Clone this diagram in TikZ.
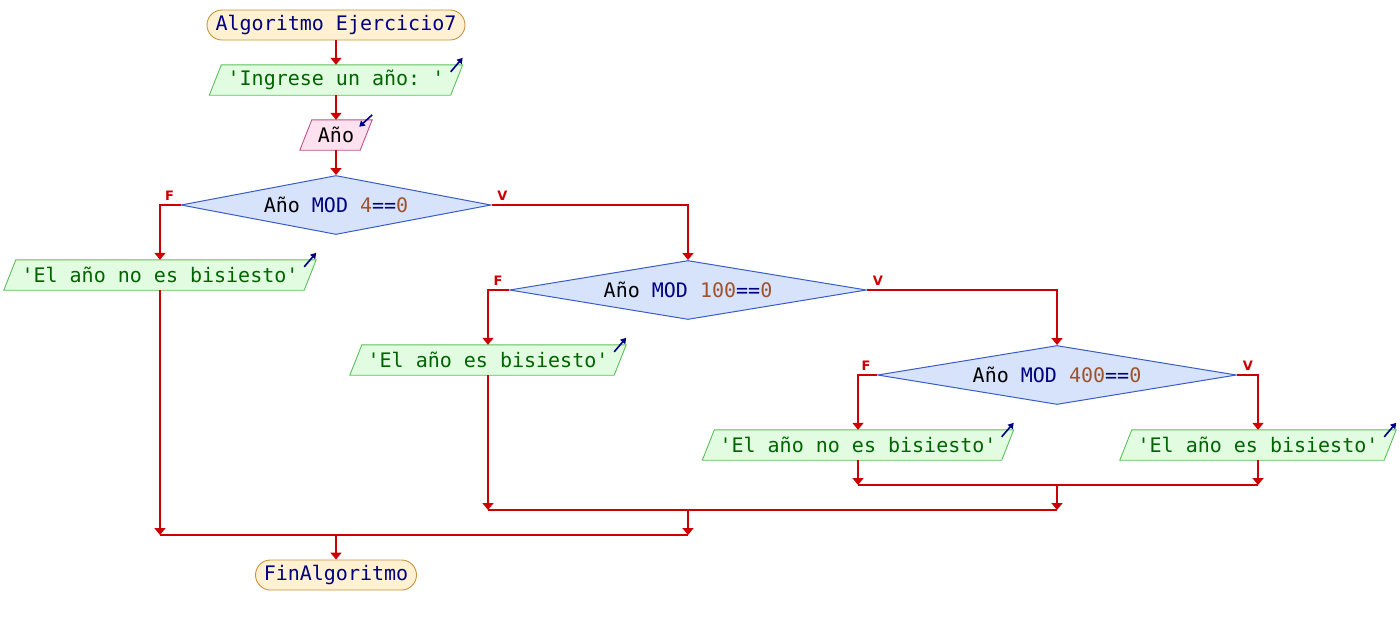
\documentclass[tikz,border=0pt]{standalone}
\usepackage{fontspec}
\setmonofont{DejaVu Sans Mono}
\newfontfamily\lblfont{DejaVu Sans}
\usetikzlibrary{shapes.geometric,arrows.meta,backgrounds}
\definecolor{flowred}{HTML}{CC0000}
\definecolor{navyc}{HTML}{000080}
\definecolor{sienc}{HTML}{A0522D}
\definecolor{termfill}{HTML}{FFF1D2}
\definecolor{termborder}{HTML}{C8923C}
\definecolor{outfill}{HTML}{E2FCE2}
\definecolor{outborder}{HTML}{5CBF5C}
\definecolor{outtext}{HTML}{006400}
\definecolor{infill}{HTML}{FDE1EE}
\definecolor{inborder}{HTML}{C0508A}
\definecolor{decfill}{HTML}{D6E3FB}
\definecolor{decborder}{HTML}{3A5CC8}
\newcommand{\paraShape}[2]{%
  \begin{scope}[on background layer]
    \path[#2] ([xshift=12pt]#1.north west) -- (#1.north east) -- ([xshift=-12pt]#1.south east) -- (#1.south west) -- cycle;
  \end{scope}}
\tikzset{
  mono/.style={font=\ttfamily\fontsize{20}{24}\selectfont},
  flow/.style={draw=flowred, line width=2pt},
  tip/.style={-{Triangle[width=11pt,length=7pt]}},
  term/.style={mono, draw=termborder, fill=termfill, line width=0.9pt, rounded corners=15pt,
    minimum height=30pt, inner sep=0pt, text=navyc},
  outbox/.style={mono, minimum height=30pt, inner sep=0pt, text=outtext},
  outshape/.style={draw=outborder, fill=outfill, line width=0.9pt},
  inbox/.style={mono, minimum height=30pt, inner sep=0pt, text=black},
  inshape/.style={draw=inborder, fill=infill, line width=0.9pt},
  decision/.style={mono, shape=diamond, aspect=6, draw=decborder, fill=decfill, line width=1pt,
    inner sep=0pt, minimum height=59pt},
  lbl/.style={text=flowred, font=\lblfont\bfseries\fontsize{13}{14}\selectfont, inner sep=0pt},
  icon/.style={draw=navyc, line width=1.6pt, -{Triangle[width=6.5pt,length=5.5pt]}}
}
\begin{document}
\begin{tikzpicture}[x=1pt,y=-1pt]
\useasboundingbox (0,0) rectangle (1400,625);

% nodes
\node[term, minimum width=258pt] (start) at (336,25) {Algoritmo Ejercicio7};
\node[outbox, minimum width=253pt] (oin) at (336,80) {'Ingrese un año: '};
\paraShape{oin}{outshape}
\node[inbox, minimum width=72pt] (inp) at (336,135) {Año};
\paraShape{inp}{inshape}
\node[decision, minimum width=310pt] (d1) at (336,205)
  {Año {\color{navyc}MOD} {\color{sienc}4}{\color{navyc}==}{\color{sienc}0}};
\node[outbox, minimum width=312pt] (oL) at (160,275) {'El año no es bisiesto'};
\paraShape{oL}{outshape}
\node[decision, minimum width=357pt] (d2) at (688,290)
  {Año {\color{navyc}MOD} {\color{sienc}100}{\color{navyc}==}{\color{sienc}0}};
\node[outbox, minimum width=276pt] (oM) at (488,360) {'El año es bisiesto'};
\paraShape{oM}{outshape}
\node[decision, minimum width=359pt] (d3) at (1057,375)
  {Año {\color{navyc}MOD} {\color{sienc}400}{\color{navyc}==}{\color{sienc}0}};
\node[outbox, minimum width=311pt] (o3L) at (858,445) {'El año no es bisiesto'};
\paraShape{o3L}{outshape}
\node[outbox, minimum width=276pt] (o3R) at (1258,445) {'El año es bisiesto'};
\paraShape{o3R}{outshape}
\node[term, minimum width=161pt] (endn) at (336,575) {FinAlgoritmo};

% join points
\coordinate (j3L) at (858,485);
\coordinate (j3R) at (1258,485);
\coordinate (j3M) at (1057,485);
\coordinate (j2L) at (488,510);
\coordinate (j2R) at (1057,510);
\coordinate (j2M) at (688,510);
\coordinate (j1L) at (160,535);
\coordinate (j1R) at (688,535);
\coordinate (j1M) at (336,535);

% io icons
\draw[icon] ([shift={(-12,7)}]oin.north east) -- ([shift={(0,-7)}]oin.north east);
\draw[icon] ([shift={(-12,7)}]oL.north east) -- ([shift={(0,-7)}]oL.north east);
\draw[icon] ([shift={(-12,7)}]oM.north east) -- ([shift={(0,-7)}]oM.north east);
\draw[icon] ([shift={(-12,7)}]o3L.north east) -- ([shift={(0,-7)}]o3L.north east);
\draw[icon] ([shift={(-12,7)}]o3R.north east) -- ([shift={(0,-7)}]o3R.north east);
\draw[icon] ([shift={(0,-5)}]inp.north east) -- ([shift={(-13,7)}]inp.north east);

% connectors
\draw[flow,tip] (start) -- (oin);
\draw[flow,tip] (oin) -- (inp);
\draw[flow,tip] (inp) -- (d1);
\draw[flow,tip] (d1.west) -| (oL.north);
\draw[flow,tip] (d1.east) -| (d2.north);
\draw[flow,tip] (d2.west) -| (oM.north);
\draw[flow,tip] (d2.east) -| (d3.north);
\draw[flow,tip] (d3.west) -| (o3L.north);
\draw[flow,tip] (d3.east) -| (o3R.north);

\draw[flow,tip] (o3L.south) -- (j3L);
\draw[flow,tip] (o3R.south) -- (j3R);
\draw[flow] (j3L) -- (j3R);
\draw[flow,tip] (j3M) -- (j2R);
\draw[flow,tip] (oM.south) -- (j2L);
\draw[flow] (j2L) -- (j2R);
\draw[flow,tip] (j2M) -- (j1R);
\draw[flow,tip] (oL.south) -- (j1L);
\draw[flow] (j1L) -- (j1R);
\draw[flow,tip] (j1M) -- (endn.north);

% branch labels
\node[lbl] (f1) at ([shift={(-11,-9)}]d1.west) {F};
\node[lbl] (v1) at ([shift={(11,-9)}]d1.east) {V};
\node[lbl] (f2) at ([shift={(-11,-9)}]d2.west) {F};
\node[lbl] (v2) at ([shift={(11,-9)}]d2.east) {V};
\node[lbl] (f3) at ([shift={(-11,-9)}]d3.west) {F};
\node[lbl] (v3) at ([shift={(11,-9)}]d3.east) {V};
\end{tikzpicture}
\end{document}
